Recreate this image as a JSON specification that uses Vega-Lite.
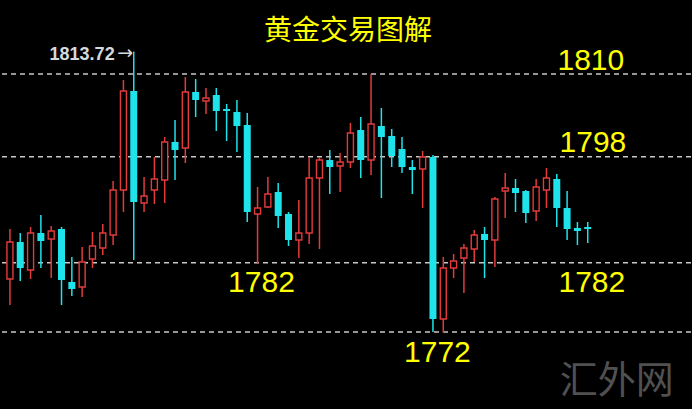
{
  "$schema": "https://vega.github.io/schema/vega-lite/v6.json",
  "width": 692,
  "height": 409,
  "autosize": {"type": "fit", "contains": "padding"},
  "padding": 0,
  "background": "#000000",
  "config": {"view": {"stroke": null}},
  "datasets": {
    "levels": [{"p": 1810}, {"p": 1797.8}, {"p": 1782.2}, {"p": 1772}],
    "candles": [
      {"i": 1, "o": 1779.81, "h": 1787.17, "l": 1775.98, "c": 1785.26},
      {"i": 2, "o": 1785.26, "h": 1786.58, "l": 1779.51, "c": 1781.43},
      {"i": 3, "o": 1781.13, "h": 1787.47, "l": 1779.81, "c": 1786.58},
      {"i": 4, "o": 1786.58, "h": 1789.23, "l": 1781.43, "c": 1785.40},
      {"i": 5, "o": 1785.70, "h": 1787.61, "l": 1779.95, "c": 1786.88},
      {"i": 6, "o": 1787.17, "h": 1787.47, "l": 1775.98, "c": 1779.66},
      {"i": 7, "o": 1779.37, "h": 1783.05, "l": 1777.30, "c": 1778.33},
      {"i": 8, "o": 1778.63, "h": 1784.52, "l": 1777.16, "c": 1782.31},
      {"i": 9, "o": 1782.75, "h": 1786.73, "l": 1781.43, "c": 1784.67},
      {"i": 10, "o": 1784.37, "h": 1787.91, "l": 1783.34, "c": 1786.58},
      {"i": 11, "o": 1786.29, "h": 1794.24, "l": 1784.82, "c": 1792.92},
      {"i": 12, "o": 1792.92, "h": 1809.12, "l": 1789.68, "c": 1807.50},
      {"i": 13, "o": 1807.50, "h": 1813.3, "l": 1782.61, "c": 1791.15},
      {"i": 14, "o": 1791.00, "h": 1794.83, "l": 1789.68, "c": 1792.03},
      {"i": 15, "o": 1792.92, "h": 1797.78, "l": 1790.85, "c": 1794.54},
      {"i": 16, "o": 1794.39, "h": 1800.72, "l": 1791.00, "c": 1799.99},
      {"i": 17, "o": 1799.99, "h": 1803.22, "l": 1794.39, "c": 1798.81},
      {"i": 18, "o": 1799.10, "h": 1809.56, "l": 1796.89, "c": 1807.35},
      {"i": 19, "o": 1807.35, "h": 1809.26, "l": 1803.67, "c": 1806.17},
      {"i": 20, "o": 1806.02, "h": 1807.94, "l": 1804.11, "c": 1806.47},
      {"i": 21, "o": 1806.91, "h": 1807.94, "l": 1801.61, "c": 1804.55},
      {"i": 22, "o": 1804.85, "h": 1805.58, "l": 1800.13, "c": 1804.55},
      {"i": 23, "o": 1804.40, "h": 1806.17, "l": 1798.51, "c": 1802.34},
      {"i": 24, "o": 1802.49, "h": 1804.26, "l": 1788.20, "c": 1789.68},
      {"i": 25, "o": 1789.38, "h": 1793.36, "l": 1782.02, "c": 1790.26},
      {"i": 26, "o": 1790.41, "h": 1794.83, "l": 1790.26, "c": 1792.33},
      {"i": 27, "o": 1792.62, "h": 1793.95, "l": 1787.32, "c": 1789.09},
      {"i": 28, "o": 1789.38, "h": 1789.68, "l": 1784.67, "c": 1785.55},
      {"i": 29, "o": 1785.55, "h": 1791.44, "l": 1782.90, "c": 1786.58},
      {"i": 30, "o": 1786.58, "h": 1797.78, "l": 1784.96, "c": 1794.68},
      {"i": 31, "o": 1794.68, "h": 1797.78, "l": 1784.23, "c": 1797.33},
      {"i": 32, "o": 1797.33, "h": 1798.81, "l": 1792.33, "c": 1796.30},
      {"i": 33, "o": 1796.45, "h": 1798.36, "l": 1792.62, "c": 1797.04},
      {"i": 34, "o": 1797.04, "h": 1802.78, "l": 1796.16, "c": 1801.31},
      {"i": 35, "o": 1801.75, "h": 1803.67, "l": 1794.68, "c": 1797.33},
      {"i": 36, "o": 1797.33, "h": 1810.00, "l": 1795.12, "c": 1802.64},
      {"i": 37, "o": 1802.34, "h": 1804.99, "l": 1791.74, "c": 1800.72},
      {"i": 38, "o": 1800.87, "h": 1801.90, "l": 1796.30, "c": 1797.92},
      {"i": 39, "o": 1798.95, "h": 1800.72, "l": 1795.42, "c": 1796.30},
      {"i": 40, "o": 1796.30, "h": 1797.33, "l": 1792.33, "c": 1795.86},
      {"i": 41, "o": 1796.01, "h": 1798.66, "l": 1790.26, "c": 1797.78},
      {"i": 42, "o": 1797.78, "h": 1798.07, "l": 1772.00, "c": 1773.92},
      {"i": 43, "o": 1773.92, "h": 1783.05, "l": 1771.85, "c": 1781.43},
      {"i": 44, "o": 1781.43, "h": 1783.49, "l": 1779.95, "c": 1782.46},
      {"i": 45, "o": 1782.90, "h": 1784.96, "l": 1777.74, "c": 1784.37},
      {"i": 46, "o": 1784.23, "h": 1787.03, "l": 1782.31, "c": 1786.29},
      {"i": 47, "o": 1786.44, "h": 1787.47, "l": 1779.95, "c": 1785.55},
      {"i": 48, "o": 1785.55, "h": 1791.88, "l": 1781.57, "c": 1791.59},
      {"i": 49, "o": 1792.77, "h": 1795.42, "l": 1788.79, "c": 1793.21},
      {"i": 50, "o": 1793.21, "h": 1794.54, "l": 1789.68, "c": 1792.47},
      {"i": 51, "o": 1792.77, "h": 1792.92, "l": 1788.06, "c": 1789.53},
      {"i": 52, "o": 1789.82, "h": 1794.54, "l": 1788.35, "c": 1793.36},
      {"i": 53, "o": 1792.92, "h": 1796.16, "l": 1790.26, "c": 1794.68},
      {"i": 54, "o": 1794.54, "h": 1795.27, "l": 1787.47, "c": 1790.26},
      {"i": 55, "o": 1790.26, "h": 1792.77, "l": 1785.55, "c": 1787.17},
      {"i": 56, "o": 1787.32, "h": 1788.20, "l": 1784.82, "c": 1786.88},
      {"i": 57, "o": 1787.47, "h": 1788.20, "l": 1785.11, "c": 1787.17}
    ],
    "levelLabels": [
      {"t": "1810", "i": 57.3, "p": 1810.59},
      {"t": "1798", "i": 57.5, "p": 1798.51},
      {"t": "1782", "i": 25.38, "p": 1777.89},
      {"t": "1782", "i": 57.4, "p": 1777.89},
      {"t": "1772", "i": 42.43, "p": 1767.58}
    ],
    "title": [{"t": "黄金交易图解", "i": 33.76, "p": 1815.01}],
    "high": [{"t": "1813.72", "i": 11.15, "p": 1812.06}],
    "arrow": [{"t": "→", "i": 12.95, "p": 1812.2}],
    "wm": [{"t": "汇外网", "i": 59.81, "p": 1763.02}]
  },
  "encoding": {
    "x": {"field": "i", "type": "quantitative", "scale": {"domain": [0.619, 66.524], "nice": false, "zero": false}, "axis": null},
    "y": {"field": "p", "type": "quantitative", "scale": {"domain": [1760.66, 1820.9], "nice": false, "zero": false}, "axis": null}
  },
  "layer": [
    {
      "data": {"name": "levels"},
      "mark": {"type": "rule", "strokeDash": [5, 4], "color": "#c8c8c8", "strokeWidth": 1.5},
      "encoding": {"x": null, "y": {"field": "p", "type": "quantitative"}}
    },
    {
      "data": {"name": "candles"},
      "transform": [{"calculate": "datum.c >= datum.o ? 'up' : 'down'", "as": "d"}],
      "mark": {"type": "rule", "strokeWidth": 1.5},
      "encoding": {
        "y": {"field": "l", "type": "quantitative"},
        "y2": {"field": "h"},
        "color": {"field": "d", "type": "nominal", "scale": {"domain": ["up", "down"], "range": ["#e23b3b", "#1fe3ea"]}, "legend": null}
      }
    },
    {
      "data": {"name": "candles"},
      "transform": [{"filter": "datum.c >= datum.o"}],
      "mark": {"type": "bar", "size": 6, "fill": "#000000", "stroke": "#e23b3b", "strokeWidth": 1.4},
      "encoding": {
        "y": {"field": "o", "type": "quantitative"},
        "y2": {"field": "c"}
      }
    },
    {
      "data": {"name": "candles"},
      "transform": [{"filter": "datum.c < datum.o"}],
      "mark": {"type": "bar", "size": 7, "fill": "#1fe3ea"},
      "encoding": {
        "y": {"field": "o", "type": "quantitative"},
        "y2": {"field": "c"}
      }
    },
    {
      "data": {"name": "levelLabels"},
      "mark": {"type": "text", "font": "Liberation Sans", "fontSize": 30, "color": "#ffff00", "align": "center", "baseline": "alphabetic"},
      "encoding": {"text": {"field": "t"}}
    },
    {
      "data": {"name": "title"},
      "mark": {"type": "text", "font": "Noto Sans CJK SC", "fontSize": 28, "color": "#ffff00", "align": "center", "baseline": "alphabetic"},
      "encoding": {"text": {"field": "t"}}
    },
    {
      "data": {"name": "high"},
      "mark": {"type": "text", "font": "Liberation Sans", "fontSize": 18, "fontWeight": "bold", "color": "#d5dade", "align": "right", "baseline": "alphabetic"},
      "encoding": {"text": {"field": "t"}}
    },
    {
      "data": {"name": "arrow"},
      "mark": {"type": "text", "font": "DejaVu Sans", "fontSize": 19, "color": "#d5dade", "align": "right", "baseline": "alphabetic"},
      "encoding": {"text": {"field": "t"}}
    },
    {
      "data": {"name": "wm"},
      "mark": {"type": "text", "font": "Noto Sans CJK SC", "fontSize": 38, "color": "#505050", "align": "center", "baseline": "alphabetic"},
      "encoding": {"text": {"field": "t"}}
    }
  ]
}
